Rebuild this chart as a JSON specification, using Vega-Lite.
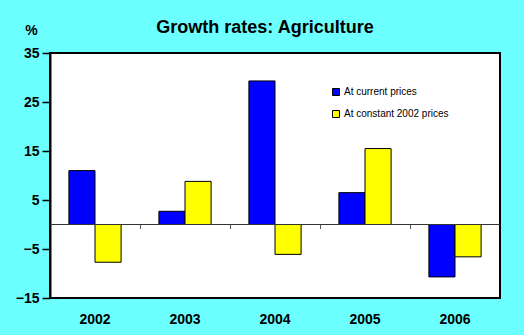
{
  "$schema": "https://vega.github.io/schema/vega-lite/v6.json",
  "width": 450,
  "height": 245,
  "autosize": {"type": "none"},
  "padding": {"left": 50, "top": 53, "right": 24, "bottom": 37},
  "background": "#6BFFFF",
  "config": {
    "font": "Liberation Sans",
    "view": {"stroke": "#000000", "strokeWidth": 2, "fill": "#FFFFFF"}
  },
  "title": {
    "text": "Growth rates: Agriculture",
    "font": "Liberation Sans",
    "fontSize": 18,
    "fontWeight": "bold",
    "color": "#000000",
    "anchor": "middle",
    "frame": "group",
    "dx": -10,
    "dy": 28,
    "baseline": "alphabetic",
    "offset": 0
  },
  "data": {
    "values": [
      {"year": "2002", "series": "At current prices", "value": 11.0},
      {"year": "2002", "series": "At constant 2002 prices", "value": -7.7},
      {"year": "2003", "series": "At current prices", "value": 2.7},
      {"year": "2003", "series": "At constant 2002 prices", "value": 8.8},
      {"year": "2004", "series": "At current prices", "value": 29.3},
      {"year": "2004", "series": "At constant 2002 prices", "value": -6.1},
      {"year": "2005", "series": "At current prices", "value": 6.5},
      {"year": "2005", "series": "At constant 2002 prices", "value": 15.5},
      {"year": "2006", "series": "At current prices", "value": -10.7},
      {"year": "2006", "series": "At constant 2002 prices", "value": -6.6}
    ]
  },
  "resolve": {"axis": {"x": "independent"}},
  "layer": [
    {
      "mark": {"type": "bar", "stroke": "#000000", "strokeWidth": 1},
      "encoding": {
        "x": {
          "field": "year",
          "type": "nominal",
          "scale": {"paddingInner": 0.42, "paddingOuter": 0.21},
          "axis": {
            "title": null,
            "orient": "bottom",
            "labelAngle": 0,
            "labelFontSize": 14,
            "labelFontWeight": "bold",
            "labelColor": "#000000",
            "labelFont": "Liberation Sans",
            "ticks": false,
            "domain": false,
            "labelPadding": 14
          }
        },
        "xOffset": {
          "field": "series",
          "type": "nominal",
          "sort": ["At current prices", "At constant 2002 prices"],
          "scale": {"paddingInner": 0, "paddingOuter": 0}
        },
        "y": {
          "field": "value",
          "type": "quantitative",
          "scale": {"domain": [-15, 35], "nice": false, "zero": false},
          "axis": {
            "title": "%",
            "titleAngle": 0,
            "titleX": -19,
            "titleY": -19,
            "titleAlign": "center",
            "titleBaseline": "alphabetic",
            "titleFontSize": 14,
            "titleFontWeight": "bold",
            "titleColor": "#000000",
            "titleFont": "Liberation Sans",
            "values": [-15, -5, 5, 15, 25, 35],
            "grid": false,
            "labelFontSize": 14,
            "labelFontWeight": "bold",
            "labelColor": "#000000",
            "labelFont": "Liberation Sans",
            "tickSize": 8,
            "tickColor": "#000000",
            "tickWidth": 1.5,
            "labelPadding": 3,
            "domainColor": "#000000",
            "domainWidth": 2
          }
        },
        "color": {
          "field": "series",
          "type": "nominal",
          "scale": {
            "domain": ["At current prices", "At constant 2002 prices"],
            "range": ["#0000FF", "#FFFF00"]
          },
          "legend": {
            "title": null,
            "orient": "none",
            "legendX": 281,
            "legendY": 34,
            "symbolType": "square",
            "symbolSize": 49,
            "symbolStrokeColor": "#000000",
            "symbolStrokeWidth": 1,
            "labelFontSize": 10,
            "labelFont": "Liberation Sans",
            "labelColor": "#000000",
            "rowPadding": 10,
            "labelOffset": 3
          }
        }
      }
    },
    {
      "mark": {"type": "rule", "color": "#333333", "strokeWidth": 1},
      "encoding": {"y": {"datum": 0}}
    },
    {
      "mark": {"type": "bar", "opacity": 0},
      "encoding": {
        "x": {
          "field": "year",
          "type": "nominal",
          "axis": {
            "title": null,
            "orient": "bottom",
            "offset": -73.5,
            "labels": false,
            "domain": false,
            "ticks": true,
            "tickSize": 4,
            "tickColor": "#555555",
            "bandPosition": -0.362
          }
        },
        "y": {"datum": 0}
      }
    }
  ]
}
